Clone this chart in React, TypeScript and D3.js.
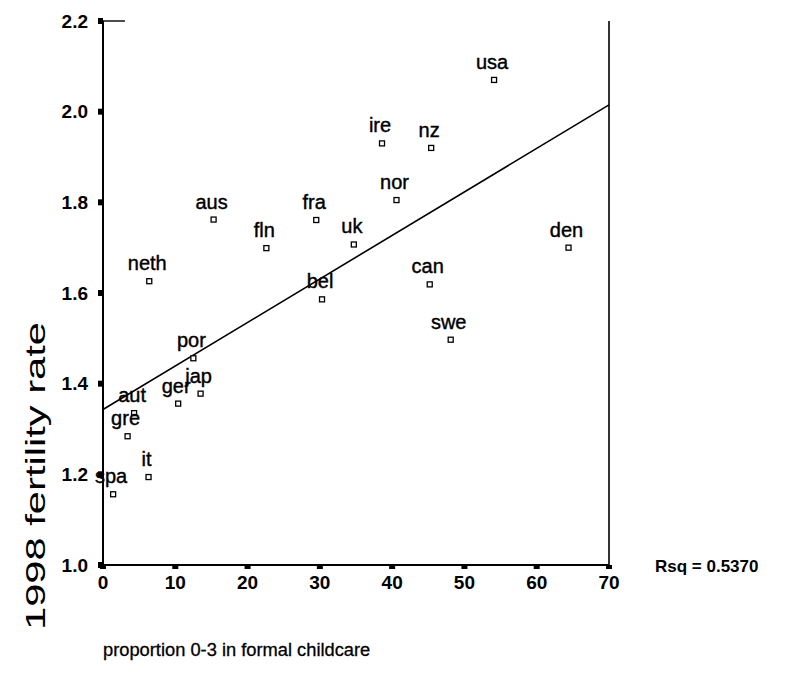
import React from "react";
import * as d3 from "d3";

const countries = ["usa","ire","nz","nor","fra","aus","fln","uk","den","neth","can","bel","swe","por","jap","ger","aut","gre","it","spa"];
const childcare = [54.1,38.6,45.4,40.6,29.5,15.3,22.6,34.7,64.4,6.4,45.2,30.3,48.1,12.5,13.5,10.4,4.3,3.4,6.3,1.4];
const fertility = [2.07,1.93,1.92,1.805,1.761,1.762,1.699,1.707,1.70,1.626,1.619,1.586,1.497,1.456,1.378,1.356,1.335,1.284,1.194,1.156];
const xTicks = [0,10,20,30,40,50,60,70];
const yTicks = [1.0,1.2,1.4,1.6,1.8,2.0,2.2];
const fitX = [0, 70];
const fitY = [1.343, 2.015];
const rsqText = "Rsq = 0.5370";
const xTitle = "proportion 0-3 in formal childcare";
const yTitle = "1998 fertility rate";

const W = 793, H = 676;
const FONT = "'Liberation Sans', Arial, sans-serif";

export default function App() {
  const x = d3.scaleLinear().domain([0, 70]).range([103, 609]);
  const y = d3.scaleLinear().domain([1.0, 2.2]).range([565, 21]);
  const line = d3.line<number>().x((_, i) => x(fitX[i])).y((d) => y(d));
  const left = x(0), right = x(70), top = y(2.2), bottom = y(1.0);

  return (
    <svg width={W} height={H} style={{ position: "absolute", left: 0, top: 0, background: "#fff" }} fontFamily={FONT}>
      <rect x={0} y={0} width={W} height={H} fill="#fff" />
      {/* frame */}
      <line x1={left} y1={top} x2={left} y2={bottom + 1} stroke="#000" strokeWidth={2} />
      <line x1={left} y1={bottom} x2={right} y2={bottom} stroke="#000" strokeWidth={2} />
      <line x1={right} y1={top} x2={right} y2={bottom} stroke="#000" strokeWidth={1.6} />
      <line x1={left} y1={top} x2={left + 22} y2={top} stroke="#000" strokeWidth={1.4} />
      {/* y ticks */}
      {yTicks.map((t) => (
        <g key={"y" + t}>
          <rect x={left - 5} y={y(t) - 3} width={5} height={6} fill="#000" />
          <text x={left - 15} y={y(t) + 6.5} textAnchor="end" fontSize={19} fontWeight="bold" fill="#000">{t.toFixed(1)}</text>
        </g>
      ))}
      {/* x ticks */}
      {xTicks.map((t) => (
        <g key={"x" + t}>
          <rect x={x(t) - 3} y={bottom} width={6} height={4} fill="#000" />
          <text x={x(t)} y={bottom + 24} textAnchor="middle" fontSize={19} fontWeight="bold" fill="#000">{t}</text>
        </g>
      ))}
      {/* fit line */}
      <path d={line(fitY) || ""} fill="none" stroke="#000" strokeWidth={1.6} />
      {/* points */}
      {countries.map((c, i) => (
        <g key={c}>
          <rect x={x(childcare[i]) - 2.5} y={y(fertility[i]) - 2.5} width={5} height={5} fill="#fff" stroke="#000" strokeWidth={1.3} />
          <text x={x(childcare[i]) - 2} y={y(fertility[i]) - 11} textAnchor="middle" fontSize={20} fill="#000" stroke="#000" strokeWidth={0.4}>{c}</text>
        </g>
      ))}
      <text x={655} y={572} fontSize={17} fontWeight="bold" fill="#000">{rsqText}</text>
      <text x={103} y={656} fontSize={18.3} fill="#000" stroke="#000" strokeWidth={0.3}>{xTitle}</text>
      <text transform={`translate(45,476) rotate(-90)`} textAnchor="middle" fontSize={28} fill="#000" textLength={308} lengthAdjust="spacingAndGlyphs">{yTitle}</text>
    </svg>
  );
}
